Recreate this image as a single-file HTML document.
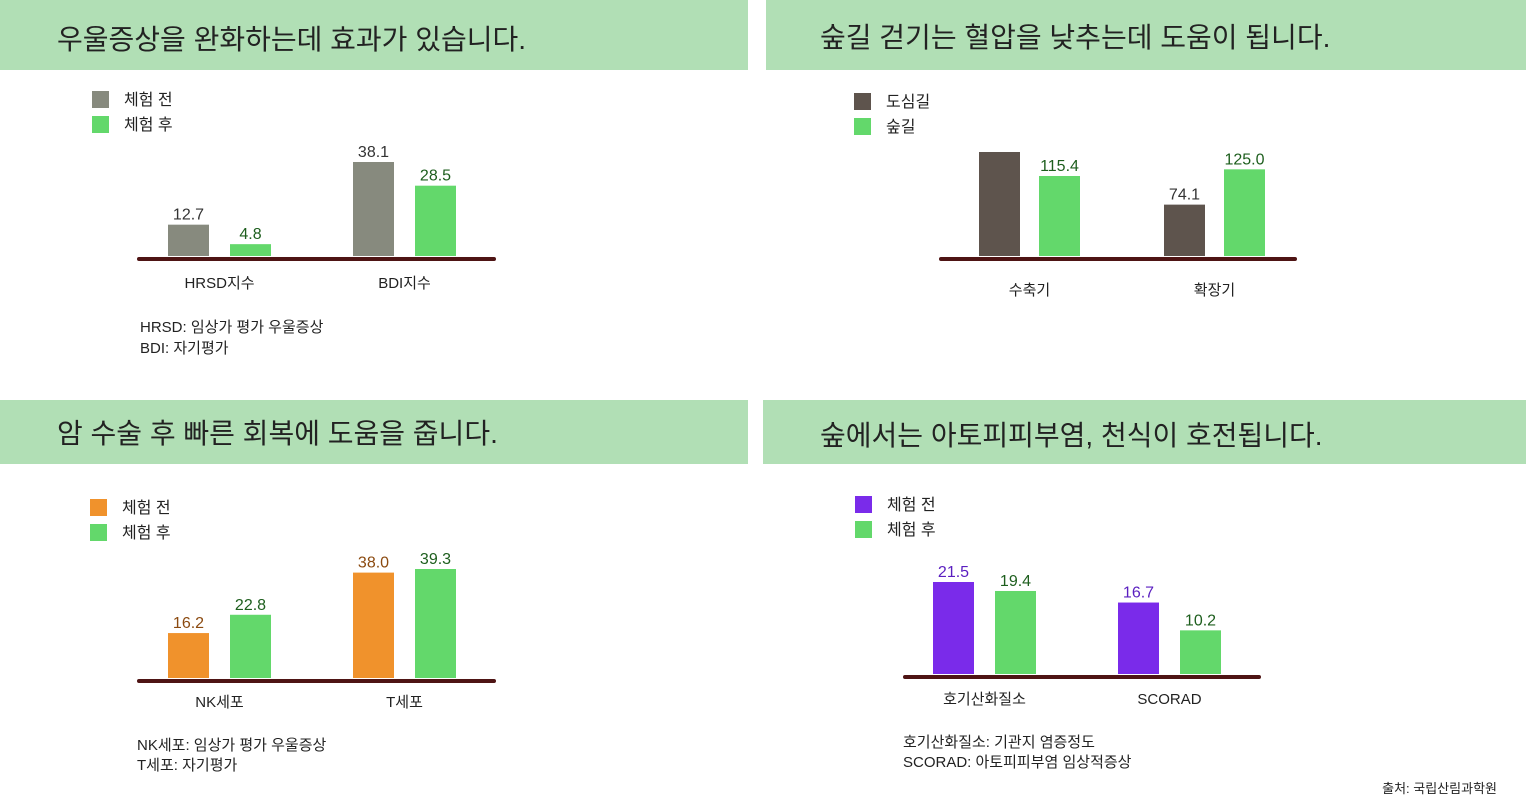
<!DOCTYPE html>
<html><head><meta charset="utf-8">
<style>
html,body{margin:0;padding:0;background:#fff;}
svg{display:block;font-family:"Liberation Sans","Noto Sans CJK KR",sans-serif;}
</style></head>
<body>
<svg id="page" width="1526" height="800" viewBox="0 0 1526 800">
  <rect x="0" y="0" width="748" height="70" fill="#b1dfb5"/>
  <rect x="766" y="0" width="760" height="70" fill="#b1dfb5"/>
  <rect x="0" y="400" width="748" height="64" fill="#b1dfb5"/>
  <rect x="763" y="400" width="763" height="64" fill="#b1dfb5"/>
  <text x="57" y="49" font-size="28" fill="#222">우울증상을 완화하는데 효과가 있습니다.</text>
  <text x="820" y="47" font-size="28" fill="#222">숲길 걷기는 혈압을 낮추는데 도움이 됩니다.</text>
  <text x="57" y="443" font-size="28" fill="#222">암 수술 후 빠른 회복에 도움을 줍니다.</text>
  <text x="820" y="445" font-size="28" fill="#222">숲에서는 아토피피부염, 천식이 호전됩니다.</text>
  <g id="charts"></g>
  <text x="140" y="332" font-size="15" fill="#222">HRSD: 임상가 평가 우울증상</text>
  <text x="140" y="353" font-size="15" fill="#222">BDI: 자기평가</text>
  <text x="137" y="750" font-size="15" fill="#222">NK세포: 임상가 평가 우울증상</text>
  <text x="137" y="770" font-size="15" fill="#222">T세포: 자기평가</text>
  <text x="903" y="747" font-size="15" fill="#222">호기산화질소: 기관지 염증정도</text>
  <text x="903" y="767" font-size="15" fill="#222">SCORAD: 아토피피부염 임상적증상</text>
  <text x="1497" y="793" font-size="13" fill="#222" text-anchor="end">출처: 국립산림과학원</text>
</svg>
<script>
// Chart 1: depression
const c1Categories = ["HRSD지수", "BDI지수"];
const c1Before = [12.7, 38.1];
const c1After = [4.8, 28.5];
const c1Legend = ["체험 전", "체험 후"];
// Chart 2: blood pressure
const c2Categories = ["수축기", "확장기"];
const c2Before = [150.0, 74.1];
const c2After = [115.4, 125.0];
const c2Legend = ["도심길", "숲길"];
const c2ShowBefore = [false, true];
// Chart 3: cancer
const c3Categories = ["NK세포", "T세포"];
const c3Before = [16.2, 38.0];
const c3After = [22.8, 39.3];
const c3Legend = ["체험 전", "체험 후"];
// Chart 4: atopy
const c4Categories = ["호기산화질소", "SCORAD"];
const c4Before = [21.5, 16.7];
const c4After = [19.4, 10.2];
const c4Legend = ["체험 전", "체험 후"];

const NS = "http://www.w3.org/2000/svg";
const root = document.getElementById("charts");
function mk(tag, attrs, parent, txt){
  const e = document.createElementNS(NS, tag);
  for (const k in attrs) e.setAttribute(k, attrs[k]);
  if (txt !== undefined) e.textContent = txt;
  parent.appendChild(e);
  return e;
}
function chart(cfg){
  const g = mk("g", {}, root);
  
  
  // legend
  cfg.legend.forEach((l, i) => {
    const r = mk("rect", {x: cfg.lx, y: cfg.ly + i*25, width: 17, height: 17, fill: i ? cfg.c2 : cfg.c1}, g);
    
    
    const t = mk("text", {x: cfg.lx + 32, y: cfg.ly + i*25 + 14, "font-size": 16, fill: "#222"}, g, l);
    
    
  });
  const maxV = Math.max(...cfg.before, ...cfg.after);
  const y = v => cfg.base - v / maxV * cfg.maxH;
  cfg.cats.forEach((c, i) => {
    const x0 = cfg.x0 + i * cfg.step;
    const series = [[cfg.before[i], cfg.c1, cfg.t1, 0], [cfg.after[i], cfg.c2, cfg.t2, cfg.gap]];
    series.forEach((s, j) => {
      const top = y(s[0]);
      const b = mk("rect", {x: x0 + s[3], y: top, width: 41, height: cfg.base - top, fill: s[1]}, g);
      
      
      if (j === 0 && cfg.showBefore && !cfg.showBefore[i]) return;
      const t = mk("text", {x: x0 + s[3] + 20.5, y: top - 5, "font-size": 16, fill: s[2], "text-anchor": "middle"}, g, s[0].toFixed(1));
      
      
    });
    const ct = mk("text", {x: x0 + (cfg.gap + 41) / 2, y: cfg.base + cfg.catDy, "font-size": 15, fill: "#222", "text-anchor": "middle"}, g, c);
    
    
  });
  const ax = mk("rect", {x: cfg.ax1, y: cfg.base + 1, width: cfg.ax2 - cfg.ax1, height: 4, rx: 2, fill: "#4e1414"}, g);
  
  
}
chart({name:"depression-chart", cats:c1Categories, before:c1Before, after:c1After, legend:c1Legend,
  c1:"#878a7e", c2:"#63d86b", t1:"#333", t2:"#1d5e1d", lx:92, ly:91, base:256, maxH:94,
  x0:168, step:185, gap:62, ax1:137, ax2:496, catDy:32});
chart({name:"bloodpressure-chart", cats:c2Categories, before:c2Before, after:c2After, legend:c2Legend, showBefore:c2ShowBefore,
  c1:"#5e544d", c2:"#63d86b", t1:"#333", t2:"#1d5e1d", lx:854, ly:93, base:256, maxH:104,
  x0:979, step:185, gap:60, ax1:939, ax2:1297, catDy:39});
chart({name:"cancer-chart", cats:c3Categories, before:c3Before, after:c3After, legend:c3Legend,
  c1:"#f0922c", c2:"#63d86b", t1:"#8b4a10", t2:"#1d5e1d", lx:90, ly:499, base:678, maxH:109,
  x0:168, step:185, gap:62, ax1:137, ax2:496, catDy:29});
chart({name:"atopy-chart", cats:c4Categories, before:c4Before, after:c4After, legend:c4Legend,
  c1:"#7a2bea", c2:"#63d86b", t1:"#5a1ec0", t2:"#1d5e1d", lx:855, ly:496, base:674, maxH:92,
  x0:933, step:185, gap:62, ax1:903, ax2:1261, catDy:30});
</script>
</body></html>
